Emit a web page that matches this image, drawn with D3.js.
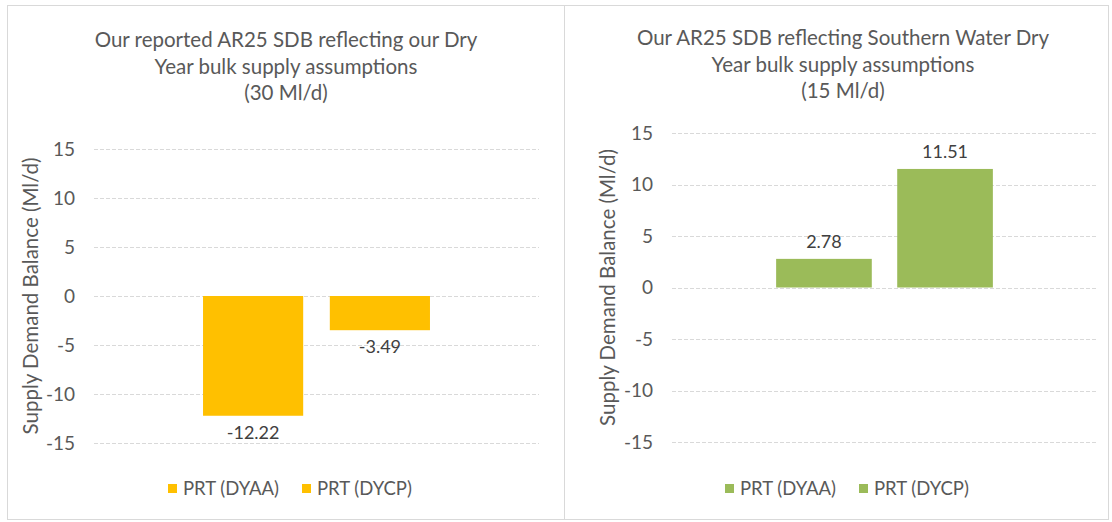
<!DOCTYPE html>
<html>
<head>
<meta charset="utf-8">
<script src="https://cdn.jsdelivr.net/npm/d3@7"></script>
<style>
  body { margin: 0; background: #fff; }
  svg { font-family: Lato, "Open Sans", sans-serif; }
</style>
</head>
<body>
<svg id="chart" width="1112" height="522"></svg>
<script>
// data
const seriesNames = ['PRT (DYAA)', 'PRT (DYCP)'];
const leftValues = [-12.22, -3.49];
const rightValues = [2.78, 11.51];
const yTicks = [-15, -10, -5, 0, 5, 10, 15];
const leftTitle = ['Our reported AR25 SDB reflecting our Dry', 'Year bulk supply assumptions', '(30 Ml/d)'];
const rightTitle = ['Our AR25 SDB reflecting Southern Water Dry', 'Year bulk supply assumptions', '(15 Ml/d)'];
const yLabel = 'Supply Demand Balance (Ml/d)';

const svg = d3.select('#chart');
const textColor = '#595959';

function drawPanel(cfg) {
    const g = svg.append('g');

    g.append('rect')
        .attr('x', cfg.box[0] + 0.5)
        .attr('y', cfg.box[1] + 0.5)
        .attr('width', cfg.box[2] - cfg.box[0])
        .attr('height', cfg.box[3] - cfg.box[1])
        .attr('fill', '#fff')
        .attr('stroke', '#d9d9d9');

    // title
    g.append('text')
        .attr('text-anchor', 'middle')
        .attr('fill', textColor)
        .attr('font-size', 20.5)
        .selectAll('tspan')
        .data(cfg.title)
        .enter()
        .append('tspan')
        .attr('x', cfg.titleX)
        .attr('y', (d, i) => cfg.titleY + i * 26.5)
        .text(d => d);

    const y = d3.scaleLinear()
        .domain([-15, 15])
        .range([cfg.plot.bottom, cfg.plot.top]);

    const x = d3.scaleBand()
        .domain(seriesNames)
        .range([cfg.plot.left, cfg.plot.right])
        .paddingInner(0.21)
        .paddingOuter(0.86);

    // gridlines
    g.selectAll('line.grid')
        .data(yTicks)
        .enter()
        .append('line')
        .attr('x1', cfg.plot.left)
        .attr('x2', cfg.plot.right)
        .attr('y1', d => Math.round(y(d)) + 0.5)
        .attr('y2', d => Math.round(y(d)) + 0.5)
        .attr('stroke', '#d9d9d9')
        .attr('stroke-dasharray', '4,2');

    // y axis labels
    const axis = d3.axisLeft(y).tickValues(yTicks).tickSize(0).tickPadding(0)
        .tickFormat(d => String(d));
    const ax = g.append('g')
        .attr('transform', `translate(${cfg.plot.left - 19},0)`)
        .call(axis);
    ax.select('.domain').remove();
    ax.selectAll('text')
        .attr('fill', textColor)
        .attr('font-size', 19)
        .attr('font-family', 'Lato, "Open Sans", sans-serif');

    g.append('text')
        .attr('transform', `translate(${cfg.yLabelX},${(y(15) + y(-15)) / 2}) rotate(-90)`)
        .attr('text-anchor', 'middle')
        .attr('fill', textColor)
        .attr('font-size', 20.5)
        .text(yLabel);

    // bars
    g.selectAll('rect.bar')
        .data(cfg.values)
        .enter()
        .append('rect')
        .attr('x', (d, i) => x(seriesNames[i]))
        .attr('y', d => y(Math.max(0, d)))
        .attr('width', x.bandwidth())
        .attr('height', d => Math.abs(y(d) - y(0)))
        .attr('fill', cfg.color);

    // data labels
    g.selectAll('text.val')
        .data(cfg.values)
        .enter()
        .append('text')
        .attr('x', (d, i) => x(seriesNames[i]) + x.bandwidth() / 2)
        .attr('y', d => d < 0 ? y(d) + 23 : y(d) - 11)
        .attr('text-anchor', 'middle')
        .attr('fill', '#404040')
        .attr('font-size', 18)
        .text(d => d.toFixed(2));

    // legend
    const lg = g.append('g').attr('transform', `translate(${cfg.legendX},${cfg.legendY})`);
    const items = lg.selectAll('g')
        .data(seriesNames)
        .enter()
        .append('g')
        .attr('transform', (d, i) => `translate(${i * 134},0)`);
    items.append('rect')
        .attr('x', 0)
        .attr('y', -4)
        .attr('width', 9)
        .attr('height', 9)
        .attr('fill', cfg.color);
    items.append('text')
        .attr('x', 15)
        .attr('y', 7)
        .attr('fill', textColor)
        .attr('font-size', 18.5)
        .text(d => d);
}

drawPanel({
    box: [7, 5, 564, 519],
    title: leftTitle,
    titleX: 286,
    titleY: 47,
    plot: { left: 94, right: 539, top: 149, bottom: 443 },
    yLabelX: 38,
    values: leftValues,
    color: '#ffc000',
    legendX: 168,
    legendY: 488
});

drawPanel({
    box: [564, 5, 1108, 519],
    title: rightTitle,
    titleX: 843,
    titleY: 45,
    plot: { left: 672, right: 1097, top: 133, bottom: 442 },
    yLabelX: 615,
    values: rightValues,
    color: '#9bbb59',
    legendX: 725,
    legendY: 488
});
</script>
</body>
</html>
